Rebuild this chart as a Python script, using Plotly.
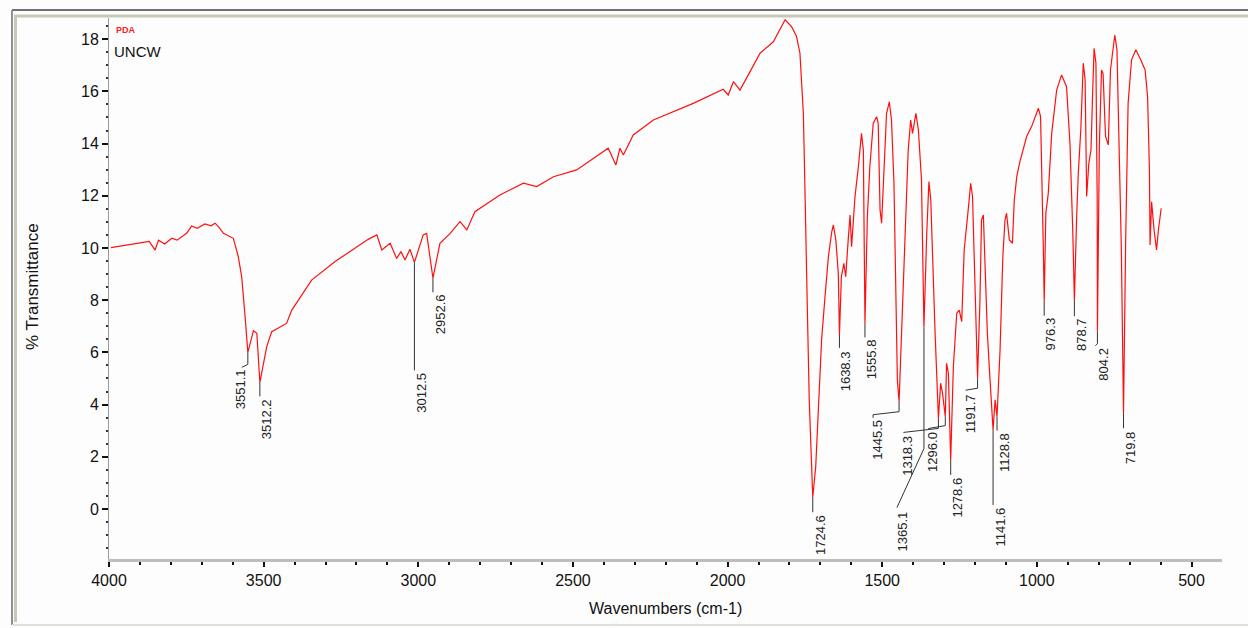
import plotly.graph_objects as go

# ---------------- data ----------------
wavenumber = [3994, 3905, 3870, 3851, 3840, 3820, 3797, 3780, 3749, 3733, 3715, 3690, 3670, 3657, 3645,
              3630, 3598, 3582, 3571, 3560, 3551.1, 3533, 3522, 3512.2, 3490, 3474, 3426, 3409, 3345,
              3269, 3215, 3162, 3134, 3118, 3091, 3070, 3056, 3043, 3027, 3012.5, 2984, 2973, 2952.6,
              2930, 2897, 2865, 2843, 2817, 2736, 2660, 2617, 2563, 2488, 2386, 2361, 2348, 2337, 2305,
              2240, 2165, 2111, 2014, 1998, 1981, 1960, 1933, 1895, 1852, 1814, 1793, 1777, 1766, 1755,
              1750, 1744, 1742, 1736, 1731, 1728, 1724.6, 1715, 1707, 1696, 1685, 1674, 1663, 1658,
              1650, 1642, 1638.3, 1632, 1624, 1618, 1610, 1604, 1599, 1588, 1577, 1567, 1561, 1555.8,
              1548, 1540, 1529, 1518, 1513, 1507, 1502, 1494, 1486, 1477, 1470, 1462, 1456, 1451,
              1445.5, 1437, 1426, 1416, 1408, 1402, 1391, 1383, 1373, 1368, 1365.1, 1356, 1349, 1343,
              1337, 1329, 1318.3, 1311, 1305, 1296.0, 1292, 1286, 1278.6, 1270, 1259, 1251, 1243, 1235,
              1222, 1214, 1208, 1202, 1195, 1191.7, 1184, 1179, 1173, 1168, 1160, 1152, 1141.6, 1135,
              1128.8, 1119, 1110, 1103, 1098, 1089, 1079, 1073, 1065, 1055, 1038, 1033, 1017, 995, 988,
              983, 979, 976.3, 971, 963, 952, 936, 920, 904, 893, 884, 878.7, 871, 866, 858, 850, 844,
              839, 832, 825, 820, 815, 809, 805, 804.2, 798, 791, 786, 778, 769, 762, 748, 741, 732,
              727, 723, 719.8, 713, 705, 694, 680, 664, 650, 642, 636, 634, 629, 621, 613, 607, 602, 598]
transmittance = [10.01, 10.20, 10.25, 9.92, 10.30, 10.15, 10.37, 10.30, 10.56, 10.84, 10.75, 10.92, 10.85, 10.95, 10.80,
                 10.56, 10.37, 9.67, 8.90, 7.37, 6.00, 6.83, 6.73, 4.85, 6.22, 6.79, 7.11, 7.62, 8.77,
                 9.48, 9.92, 10.33, 10.50, 9.92, 10.18, 9.60, 9.86, 9.54, 9.95, 9.45, 10.50, 10.56, 8.84,
                 10.18, 10.56, 11.01, 10.69, 11.39, 12.03, 12.48, 12.35, 12.73, 12.99, 13.82, 13.18, 13.82, 13.56, 14.33,
                 14.90, 15.29, 15.54, 16.08, 15.86, 16.37, 16.05, 16.63, 17.46, 17.90, 18.74, 18.48, 18.10, 17.46, 15.16,
                 12.35, 8.00, 7.62, 4.18, 2.52, 1.00, 0.45, 1.62, 3.67, 6.48, 8.13, 9.67, 10.63, 10.88,
                 10.31, 9.03, 6.67, 8.90, 9.41, 8.90, 10.31, 11.26, 10.05, 11.97, 13.12, 14.39, 13.75, 7.11,
                 11.20, 13.12, 14.78, 15.03, 14.78, 11.46, 10.95, 13.12, 15.16, 15.60, 14.90, 12.48, 8.65, 4.94,
                 4.11, 6.73, 10.56, 13.75, 14.90, 14.39, 15.16, 14.52, 12.60, 9.28, 6.95, 10.56, 12.54, 11.84,
                 9.28, 6.73, 3.47, 4.82, 4.43, 3.54, 5.58, 5.20, 1.88, 5.45, 7.50, 7.62, 7.18, 9.92,
                 11.46, 12.48, 11.97, 9.28, 6.22, 5.01, 8.00, 11.07, 11.26, 9.28, 6.73, 5.07, 3.03, 4.18,
                 3.54, 6.09, 9.67, 11.07, 11.33, 10.31, 10.18, 11.84, 12.73, 13.30, 14.14, 14.27, 14.65, 15.35, 15.03,
                 12.60, 9.92, 7.94, 11.33, 12.10, 14.39, 16.05, 16.63, 16.18, 14.01, 10.69, 8.00, 11.33, 12.86, 14.52, 17.08, 16.44,
                 11.97, 13.24, 13.75, 15.80, 17.65, 17.08, 11.97, 6.79, 13.88, 16.82, 16.69, 14.27, 13.95, 16.82, 18.16, 17.59, 13.24,
                 10.05, 6.50, 3.67, 10.18, 15.54, 17.20, 17.59, 17.20, 16.82, 15.80, 12.99, 10.11, 11.77, 10.69, 9.92, 10.69, 11.07, 11.52]

peak_labels = ["3551.1", "3512.2", "3012.5", "2952.6", "1724.6", "1638.3", "1555.8", "1445.5", "1365.1",
               "1318.3", "1296.0", "1278.6", "1191.7", "1141.6", "1128.8", "976.3", "878.7", "804.2", "719.8"]
peak_wn = [3551.1, 3512.2, 3012.5, 2952.6, 1724.6, 1638.3, 1555.8, 1445.5, 1365.1,
           1318.3, 1296.0, 1278.6, 1191.7, 1141.6, 1128.8, 976.3, 878.7, 804.2, 719.8]
peak_t = [6.00, 4.85, 9.45, 8.84, 0.45, 6.67, 7.11, 4.11, 6.95,
          3.47, 3.54, 1.88, 5.01, 3.03, 3.54, 7.94, 8.00, 6.79, 3.67]

x_ticks = [4000, 3500, 3000, 2500, 2000, 1500, 1000, 500]
y_ticks = [0, 2, 4, 6, 8, 10, 12, 14, 16, 18]

# ---------------- layout geometry (pixels) ----------------
W, H = 1248, 628
L, R, T, B = 109, 1222, 18, 559
# leader line paths (screen pixels, down positive) and label offsets, per peak
leader_paths = [
    [(0, 0), (0, 12), (-6, 15)],
    [(0, 0), (0, 14)],
    [(0, 0), (0, 108)],
    [(0, 0), (0, 14)],
    [(0, 0), (0, 15)],
    [(0, 0), (0, 13)],
    [(0, 0), (0, 14)],
    [(0, 0), (0, 10), (-26, 13), (-26, 16)],
    [(0, 0), (0, 121), (-27, 180)],
    [(0, 0), (0, 10), (-35, 14)],
    [(0, 0), (0, 9), (-17, 12)],
    [(0, 0), (0, 15)],
    [(0, 0), (0, 10), (-12, 12)],
    [(0, 0), (0, 75)],
    [(0, 0), (0, 14)],
    [(0, 0), (0, 14)],
    [(0, 0), (0, 16)],
    [(0, 0), (0, 12), (-2, 14)],
    [(0, 0), (0, 15)],
]
label_offsets = [(-7, 15), (7, 15), (7, 108), (7, 14), (7, 16), (6, 14), (6, 14), (-21, 16), (-21, 182),
                 (-31, 15), (-13, 13), (7, 16), (-7, 14), (7, 76), (7, 15), (6, 14), (7, 16), (6, 14), (7, 16)]


def px(xp):
    return (xp - L) / (R - L)


def py(yp):
    return (B - yp) / (B - T)


FONT = "Liberation Sans, Arial, sans-serif"

fig = go.Figure()
fig.add_trace(go.Scatter(x=wavenumber, y=transmittance, mode="lines",
                         line=dict(color="#ff1010", width=1.2), hoverinfo="skip"))

shapes = []
annotations = []
for lab, wn, tv, path, (dx, dy) in zip(peak_labels, peak_wn, peak_t, leader_paths, label_offsets):
    d = "M " + " L ".join(f"{p[0]},{-p[1]}" for p in path)
    shapes.append(dict(type="path", xref="x", yref="y", xsizemode="pixel", ysizemode="pixel",
                       xanchor=wn, yanchor=tv, path=d, line=dict(color="#333333", width=1)))
    annotations.append(dict(x=wn, y=tv, xref="x", yref="y", text=lab, showarrow=False,
                            textangle=-90, xanchor="center", yanchor="top", xshift=dx, yshift=-dy,
                            font=dict(family=FONT, size=13, color="#222222")))

# window-like frame
shapes += [
    dict(type="line", xref="paper", yref="paper", x0=px(12), x1=px(1248), y0=py(10), y1=py(10),
         line=dict(color="#707070", width=2)),
    dict(type="line", xref="paper", yref="paper", x0=px(14), x1=px(1248), y0=py(16), y1=py(16),
         line=dict(color="#c8c8b8", width=3)),
    dict(type="line", xref="paper", yref="paper", x0=px(12), x1=px(12), y0=py(10), y1=py(625),
         line=dict(color="#909090", width=2)),
    dict(type="line", xref="paper", yref="paper", x0=px(15.5), x1=px(15.5), y0=py(16), y1=py(622),
         line=dict(color="#c8c8b8", width=3)),
    dict(type="line", xref="paper", yref="paper", x0=px(12), x1=px(1248), y0=py(625), y1=py(625),
         line=dict(color="#e0e0d8", width=2)),
]

annotations += [
    dict(x=px(114), y=py(30), xref="paper", yref="paper", text="<b>PDA</b>", showarrow=False,
         xanchor="left", yanchor="middle", font=dict(family=FONT, size=9, color="#ff2020")),
    dict(x=px(112), y=py(51), xref="paper", yref="paper", text="UNCW", showarrow=False,
         xanchor="left", yanchor="middle", font=dict(family=FONT, size=15, color="#111111")),
    dict(x=px(32), y=py(287), xref="paper", yref="paper", text="% Transmittance", showarrow=False,
         textangle=-90, xanchor="center", yanchor="middle", font=dict(family=FONT, size=17, color="#111111")),
    dict(x=px(665), y=py(608), xref="paper", yref="paper", text="Wavenumbers (cm-1)", showarrow=False,
         xanchor="center", yanchor="middle", font=dict(family=FONT, size=16, color="#111111")),
]

fig.update_layout(
    width=W, height=H,
    margin=dict(l=L, r=W - R, t=T, b=H - B, pad=0),
    paper_bgcolor="#fdfdfd", plot_bgcolor="#fdfdfd",
    showlegend=False,
    shapes=shapes, annotations=annotations,
    font=dict(family=FONT, size=16, color="#111111"),
)
fig.update_xaxes(range=[4000, 401.4], tickvals=x_ticks, ticks="outside", ticklen=5, tickwidth=1.5,
                 tickcolor="#111111", showline=True, linecolor="#bdbdbd", linewidth=3,
                 showgrid=False, zeroline=False, tickfont=dict(size=16, color="#111111"),
                 minor=dict(dtick=100, ticks="outside", ticklen=3, tickwidth=1.5, tickcolor="#111111",
                            showgrid=False))
fig.update_yaxes(range=[-1.916, 18.81], tickvals=y_ticks, ticks="outside", ticklen=6, tickwidth=1.5,
                 tickcolor="#111111", showline=True, linecolor="#999999", linewidth=1,
                 showgrid=False, zeroline=False, tickfont=dict(size=16, color="#111111"),
                 minor=dict(dtick=0.5, ticks="outside", ticklen=2, tickwidth=2, tickcolor="#333333",
                            showgrid=False))

fig.write_html("out.html")
